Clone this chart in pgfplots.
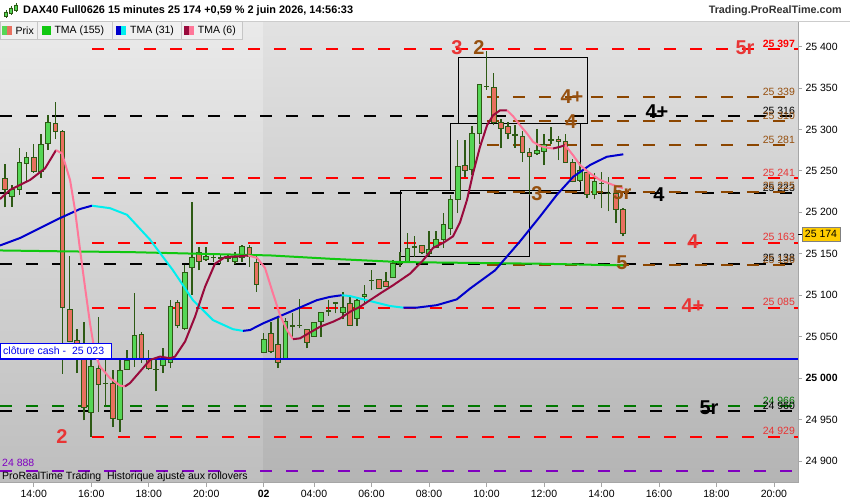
\documentclass[border=0pt]{standalone}
\usepackage{fontspec}
\setmainfont{Liberation Sans}
\usepackage{pgfplots}
\usepackage{pgfplotstable}
\pgfplotsset{compat=1.18}

\definecolor{cgreen}{HTML}{55D655}
\definecolor{cred}{HTML}{E8705F}
\definecolor{wickc}{HTML}{2D5A14}
\definecolor{tmag}{HTML}{10C810}
\definecolor{tmab}{HTML}{0000CC}
\definecolor{tmac}{HTML}{00EEEE}
\definecolor{tmacr}{HTML}{990A3C}
\definecolor{tmap}{HTML}{FF7799}
\definecolor{lred}{HTML}{FF0000}
\definecolor{lbrown}{HTML}{8C4600}
\definecolor{lgreen}{HTML}{007800}
\definecolor{lpurple}{HTML}{8000C0}
\definecolor{lblue}{HTML}{0000F0}
\definecolor{tred}{HTML}{E83535}
\definecolor{tbrown}{HTML}{96500F}
\definecolor{cyellow}{HTML}{FFCC00}

% candle data: index, open, high, low, close (15 minute bars)
\pgfplotstableread{
i o h l c
1 25241 25258 25206 25228
2 25219 25233 25207 25228
3 25227 25278 25221 25260
4 25259 25273 25237 25266
5 25266 25283 25248 25249
6 25249 25295 25242 25282
7 25283 25317 25275 25309
8 25307 25333 25289 25298
9 25298 25299 25005 25085
10 25083 25147 25043 25044
11 25046 25059 25006 25022
12 25024 25068 24949 24965
13 24959 25024 24929 25014
14 25012 25074 24959 24992
15 24993 25024 24965 24994
16 24994 25010 24941 24951
17 24950 25022 24935 25009
18 25011 25034 25010 25021
19 25022 25103 25014 25052
20 25053 25056 25018 25022
21 25022 25034 25010 25012
22 25011 25024 24984 25010
23 25015 25036 25006 25023
24 25019 25094 25012 25086
25 25091 25094 25060 25064
26 25060 25137 25058 25128
27 25134 25213 25100 25145
28 25151 25158 25130 25141
29 25143 25158 25141 25147
30 25145 25150 25140 25146
31 25144 25148 25138 25146
32 25144 25148 25140 25145
33 25141 25152 25138 25146
34 25146 25160 25140 25159
35 25158 25160 25134 25147
36 25140 25147 25104 25113
37 25031 25055 25030 25047
38 25054 25068 25030 25032
39 25041 25072 25012 25019
40 25024 25072 25023 25068
41 25062 25078 25047 25063
42 25063 25095 25060 25064
43 25059 25059 25036 25043
44 25050 25067 25050 25067
45 25068 25080 25050 25079
46 25081 25094 25075 25082
47 25090 25092 25078 25091
48 25079 25104 25071 25085
49 25090 25100 25063 25064
50 25072 25096 25063 25094
51 25099 25112 25089 25101
52 25118 25130 25106 25118
53 25119 25120 25108 25108
54 25117 25128 25110 25110
55 25121 25142 25121 25138
56 25138 25152 25134 25139
57 25140 25175 25139 25157
58 25158 25171 25146 25159
59 25160 25160 25150 25152
60 25150 25177 25147 25155
61 25158 25177 25157 25167
62 25167 25199 25157 25185
63 25181 25221 25173 25216
64 25215 25287 25199 25255
65 25257 25287 25243 25251
66 25252 25304 25245 25295
67 25295 25355 25283 25354
68 25352 25394 25348 25352
69 25351 25368 25305 25309
70 25308 25312 25277 25301
71 25303 25309 25288 25295
72 25294 25305 25278 25293
73 25291 25298 25261 25272
74 25272 25277 25221 25268
75 25271 25301 25269 25275
76 25273 25294 25257 25282
77 25288 25303 25282 25287
78 25288 25292 25263 25286
79 25285 25295 25260 25260
80 25260 25264 25236 25237
81 25239 25261 25237 25250
82 25248 25248 25217 25222
83 25222 25248 25216 25237
84 25235 25249 25205 25235
85 25223 25243 25201 25223
86 25223 25227 25187 25203
87 25203 25205 25171 25174
}\candles

\newcommand\candlerow[1]{%
  \pgfplotstablegetelem{#1}{i}\of\candles\let\ci\pgfplotsretval
  \pgfplotstablegetelem{#1}{o}\of\candles\let\co\pgfplotsretval
  \pgfplotstablegetelem{#1}{h}\of\candles\let\ch\pgfplotsretval
  \pgfplotstablegetelem{#1}{l}\of\candles\let\cl\pgfplotsretval
  \pgfplotstablegetelem{#1}{c}\of\candles\let\cc\pgfplotsretval
  \pgfmathsetmacro\xa{\ci-0.32}%
  \pgfmathsetmacro\xb{\ci+0.32}%
  \ifnum\cc<\co\relax\def\bc{cred}\else\def\bc{cgreen}\fi
  \edef\tmp{\noexpand\addplot[draw=wickc,line width=1.5pt,mark=none] coordinates {(\ci,\cl) (\ci,\ch)};%
    \noexpand\addplot[draw=wickc,fill=\bc,line width=0.9pt,mark=none] coordinates {(\xa,\co) (\xb,\co) (\xb,\cc) (\xa,\cc)} --cycle;}%
  \tmp}

\tikzset{
  hl/.style={line width=2pt, dash pattern=on 12pt off 14pt, mark=none},
  ma/.style={line width=2pt, mark=none},
  bl/.style={font=\fontsize{20}{20}\selectfont\bfseries, inner sep=0pt},
  rl/.style={anchor=base east, inner sep=0pt, font=\fontsize{10.5}{12}\selectfont, yshift=2pt},
}

\begin{document}
\begin{tikzpicture}[x=1pt,y=1pt]
\fill[white] (0,0) rectangle (850,500);
% plot background (day 1 lighter, day 2 darker)
\shade[top color={rgb,255:red,234;green,234;blue,234}, bottom color={rgb,255:red,190;green,190;blue,190}] (0,17.5) rectangle (263,479);
\shade[top color={rgb,255:red,226;green,226;blue,226}, bottom color={rgb,255:red,180;green,180;blue,180}] (263,17.5) rectangle (798,479);

\begin{axis}[
  at={(0pt,17.5pt)}, anchor=south west,
  scale only axis, width=798pt, height=461.5pt,
  xmin=0.304, xmax=111.35, ymin=24874.1, ymax=25430.8,
  axis x line*=bottom, axis y line*=right,
  axis line style={draw=gray!70, line width=0.8pt},
  tick align=outside, major tick length=4pt,
  tick style={draw=gray!70, line width=0.8pt},
  xtick={5,13,21,29,37,44,52,60,68,76,84,92,100,108},
  xticklabels={14:00,16:00,18:00,20:00,\textbf{02},04:00,06:00,08:00,10:00,12:00,14:00,16:00,18:00,20:00},
  ytick={24900,24950,...,25400},
  yticklabels={24 900,24 950,\textbf{25 000},25 050,25 100,25 150,25 200,25 250,25 300,25 350,25 400},
  ticklabel style={font=\fontsize{10.5}{12}\selectfont, text=black},
]
% horizontal levels
\addplot[hl, lred] coordinates {(13.11,25397) (111.35,25397)};
\addplot[hl, lbrown] coordinates {(68.07,25339) (111.35,25339)};
\addplot[hl, black] coordinates {(0.304,25316) (111.35,25316)};
\addplot[hl, lbrown] coordinates {(68.07,25310) (111.35,25310)};
\addplot[hl, lbrown] coordinates {(68.07,25281) (111.35,25281)};
\addplot[hl, lred] coordinates {(13.11,25241) (111.35,25241)};
\addplot[hl, black] coordinates {(0.304,25223) (111.35,25223)};
\addplot[hl, lbrown] coordinates {(68.07,25225) (111.35,25225)};
\addplot[hl, lred] coordinates {(13.11,25163) (111.35,25163)};
\addplot[hl, black] coordinates {(0.304,25138) (111.35,25138)};
\addplot[hl, lbrown] coordinates {(68.07,25136) (111.35,25136)};
\addplot[hl, lred] coordinates {(13.11,25085) (111.35,25085)};
\addplot[hl, lgreen] coordinates {(0.304,24966) (111.35,24966)};
\addplot[hl, black] coordinates {(0.304,24960) (111.35,24960)};
\addplot[hl, lred] coordinates {(13.11,24929) (111.35,24929)};
\addplot[hl, lpurple] coordinates {(0.304,24888) (111.35,24888)};

% range boxes
\addplot[black, line width=0.7pt, mark=none] coordinates {(64.09,25307) (82.09,25307) (82.09,25387) (64.09,25387)} --cycle;
\addplot[black, line width=0.7pt, mark=none] coordinates {(62.97,25227) (81.12,25227) (81.12,25307) (62.97,25307)} --cycle;
\addplot[black, line width=0.7pt, mark=none] coordinates {(56.06,25147) (73.96,25147) (73.96,25227) (56.06,25227)} --cycle;

% candles
\pgfplotsinvokeforeach{0,...,86}{\candlerow{#1}}

% cash close
\addplot[lblue, line width=2pt, mark=none] coordinates {(0.304,25023) (111.35,25023)};

% TMA 155
\addplot[ma, tmag] coordinates {(0.3,25154) (8.65,25153) (18.4,25152) (28.1,25150) (37.9,25148) (46.2,25144) (56,25140) (65.7,25139) (75.5,25138) (87,25136)};

% TMA 31
\addplot[ma, tmab] coordinates {(0.304,25160) (3.09,25169) (5.87,25181) (8.65,25193) (11.44,25204) (13.1,25208)};
\addplot[ma, tmac] coordinates {(13.1,25208) (15.61,25205) (17.98,25197) (21.18,25167) (24.38,25130) (27.16,25094) (29.94,25070) (32.73,25059) (34.12,25057)};
\addplot[ma, tmab] coordinates {(34.12,25057) (35.09,25058) (36.9,25066) (40.66,25080) (44.38,25094) (46.23,25098) (47.86,25100)};
\addplot[ma, tmac] coordinates {(47.86,25100) (49.01,25099) (51.79,25093) (54.58,25087) (56.43,25085)};
\addplot[ma, tmab] coordinates {(56.43,25085) (58.29,25085) (61.08,25088) (63.86,25095) (65.71,25108) (69.19,25130) (72.67,25165) (75.45,25195) (77.78,25221) (80.09,25243) (82.41,25257) (84.73,25267) (87.04,25270)};

% TMA 6
\addplot[ma, tmacr] coordinates {(0.30,25216) (1.70,25227) (4.48,25239) (6.57,25253) (8.10,25275)};
\addplot[ma, tmap] coordinates {(8.10,25275) (8.93,25271) (10.05,25239) (10.74,25203) (11.44,25155) (12.13,25110) (12.83,25066) (13.52,25030) (14.22,25014) (15.61,25000) (17.0,24991) (17.7,24990)};
\addplot[ma, tmacr] coordinates {(17.7,24990) (18.39,24994) (19.79,25008) (21.18,25022) (22.57,25026) (23.96,25024) (24.66,25026) (26.05,25044) (27.44,25074) (28.83,25110) (30.22,25138) (31.61,25146) (33.7,25147) (34.82,25148)};
\addplot[ma, tmap] coordinates {(34.82,25148) (36.07,25145) (37.18,25133) (38.15,25106) (39.27,25076) (40.24,25058) (41.08,25047)};
\addplot[ma, tmacr] coordinates {(41.08,25047) (42.05,25048) (43.44,25055) (44.84,25062) (46.64,25068) (47.62,25072) (49.01,25080) (50.4,25086) (51.79,25094) (53.18,25102) (55.0,25112) (57.36,25126) (59.17,25142) (60.56,25157) (61.95,25163) (63.34,25171) (64.32,25188) (65.29,25215) (66.13,25247) (67.1,25279) (68.08,25305) (68.91,25317) (69.88,25323) (70.86,25323)};
\addplot[ma, tmap] coordinates {(70.86,25323) (71.69,25316) (72.67,25305) (73.64,25295) (74.48,25285) (75.45,25280) (76.43,25278) (77.26,25277)};
\addplot[ma, tmacr] coordinates {(77.26,25277) (78.23,25279) (78.93,25281)};
\addplot[ma, tmap] coordinates {(78.93,25281) (80.04,25269) (81.02,25257) (82.41,25247) (83.8,25239) (85.61,25233) (87.0,25229)};

% right-hand level values
\node[rl, text=lred, font=\fontsize{10.5}{12}\selectfont\bfseries] at (axis cs:110.94,25397) {25 397};
\node[rl, text=tbrown] at (axis cs:110.94,25339) {25 339};
\node[rl, text=black] at (axis cs:110.94,25316) {25 316};
\node[rl, text=tbrown] at (axis cs:110.94,25310) {25 310};
\node[rl, text=tbrown] at (axis cs:110.94,25281) {25 281};
\node[rl, text=tred] at (axis cs:110.94,25241) {25 241};
\node[rl, text=black] at (axis cs:110.94,25223) {25 223};
\node[rl, text=tbrown] at (axis cs:110.94,25225) {25 225};
\node[rl, text=tred] at (axis cs:110.94,25163) {25 163};
\node[rl, text=black] at (axis cs:110.94,25138) {25 138};
\node[rl, text=tbrown] at (axis cs:110.94,25136) {25 136};
\node[rl, text=tred] at (axis cs:110.94,25085) {25 085};
\node[rl, text=lgreen] at (axis cs:110.94,24966) {24 966};
\node[rl, text=black] at (axis cs:110.94,24960) {24 960};
\node[rl, text=tred] at (axis cs:110.94,24929) {24 929};
\node[anchor=base west, inner sep=0pt, text=lpurple, font=\fontsize{10.5}{12}\selectfont] at (axis cs:0.58,24893) {24 888};

% wave labels
\node[bl, text=tred] at (axis cs:63.9,25399) {3};
\node[bl, text=tbrown] at (axis cs:66.96,25399) {2};
\node[bl, text=tred] at (axis cs:103.98,25399) {5r};
\node[bl, text=tbrown] at (axis cs:79.9,25340) {4+};
\node[bl, text=tbrown] at (axis cs:79.76,25310) {4};
\node[bl, text=black] at (axis cs:91.73,25322) {4+};
\node[bl, text=black] at (axis cs:92.01,25221) {4};
\node[bl, text=tbrown] at (axis cs:75.03,25223) {3};
\node[bl, text=tbrown] at (axis cs:86.86,25224) {5r};
\node[bl, text=tbrown] at (axis cs:86.86,25139) {5};
\node[bl, text=tred] at (axis cs:96.74,25165) {4};
\node[bl, text=tred] at (axis cs:96.74,25088) {4+};
\node[bl, text=black] at (axis cs:98.97,24964) {5r};
\node[bl, text=tred] at (axis cs:8.93,24930) {2};
\end{axis}

% cash close label
\draw[lblue, fill=white, line width=0.9pt] (0.5,142) rectangle (111,157);
\node[anchor=west, inner sep=0pt, text=lblue, font=\fontsize{10.5}{12}\selectfont] at (3,149.5) {clôture cash -\ \ 25 023};

% current price tag
\draw[black, line width=0.8pt] (798,266) -- (802,266);
\draw[gray, fill=cyellow] (802,258.5) rectangle (840,273);
\node[inner sep=0pt, font=\fontsize{10.5}{12}\selectfont] at (821,265.7) {25 174};

% footer text
\node[anchor=base west, inner sep=0pt, font=\fontsize{10.5}{12}\selectfont] at (2,20) {ProRealTime Trading\ \ Historique ajusté aux rollovers};

% header
\fill[white] (0,479) rectangle (850,500);
\draw[gray!40] (0,479) -- (850,479);
\draw[wickc, line width=0.8pt] (6,482) -- (6,490) (11,485) -- (11,494) (16,488) -- (16,497);
\fill[cgreen, draw=wickc, line width=0.5pt] (4.5,484) rectangle (7.5,488) (9.5,487) rectangle (12.5,492) (14.5,490) rectangle (17.5,495);
\node[anchor=west, inner sep=0pt, font=\fontsize{10.9}{12}\selectfont\bfseries] at (23,489.5) {DAX40 Full0626 15 minutes 25 174 +0,59 \% 2 juin 2026, 14:56:33};
\node[anchor=east, inner sep=0pt, text=black!80, font=\fontsize{10.8}{12}\selectfont\bfseries] at (842,489.5) {Trading.ProRealTime.com};

% legend bar
\begin{scope}[font=\fontsize{10.5}{12}\selectfont]
\draw[gray!45, fill={rgb,255:red,240;green,240;blue,240}] (0,461) rectangle (37.3,479);
\draw[gray!45, fill={rgb,255:red,240;green,240;blue,240}] (37.3,461) rectangle (112.3,479);
\draw[gray!45, fill={rgb,255:red,240;green,240;blue,240}] (112.3,461) rectangle (180.7,479);
\draw[gray!45, fill={rgb,255:red,240;green,240;blue,240}] (180.7,461) rectangle (242.3,479);
\fill[cgreen] (1.7,464.5) rectangle (6.7,474);
\fill[cred] (6.7,464.5) rectangle (11.7,474);
\node[anchor=west, inner sep=0pt] at (15.5,469.5) {Prix};
\fill[tmag] (41.7,464.5) rectangle (50.7,474);
\node[anchor=west, inner sep=0pt] at (54.3,469.5) {TMA (155)};
\fill[tmab] (116,464.5) rectangle (121,474);
\fill[tmac] (121,464.5) rectangle (126,474);
\node[anchor=west, inner sep=0pt] at (130,469.5) {TMA (31)};
\fill[tmacr] (184.3,464.5) rectangle (189.2,474);
\fill[tmap] (189.2,464.5) rectangle (194,474);
\node[anchor=west, inner sep=0pt] at (197.7,469.5) {TMA (6)};
\end{scope}
\pgfresetboundingbox
\path[use as bounding box] (0,0) rectangle (850,500);
\end{tikzpicture}
\end{document}
